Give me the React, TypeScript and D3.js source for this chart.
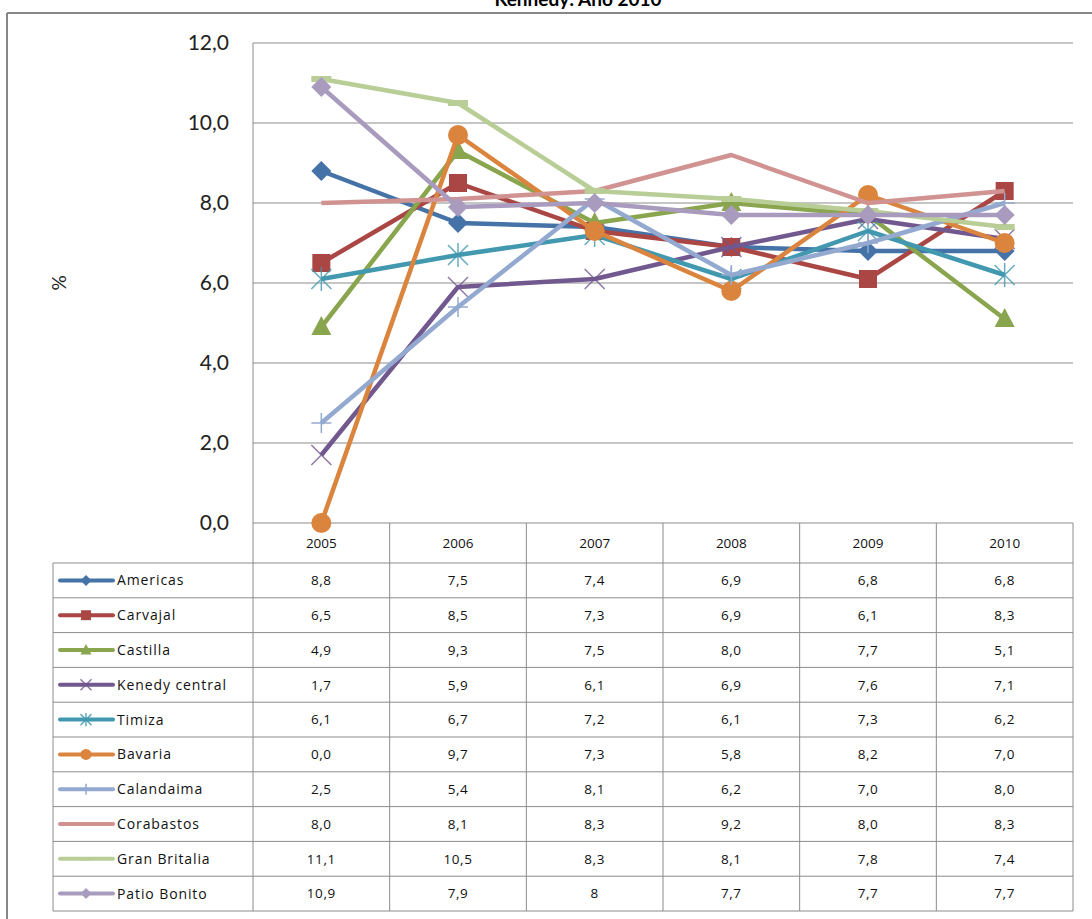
import React from "react";
import * as d3 from "d3";

const years = ["2005", "2006", "2007", "2008", "2009", "2010"];
const seriesNames = ["Americas", "Carvajal", "Castilla", "Kenedy central", "Timiza", "Bavaria", "Calandaima", "Corabastos", "Gran Britalia", "Patio Bonito"];
const americas = [8.8, 7.5, 7.4, 6.9, 6.8, 6.8];
const carvajal = [6.5, 8.5, 7.3, 6.9, 6.1, 8.3];
const castilla = [4.9, 9.3, 7.5, 8.0, 7.7, 5.1];
const kenedy = [1.7, 5.9, 6.1, 6.9, 7.6, 7.1];
const timiza = [6.1, 6.7, 7.2, 6.1, 7.3, 6.2];
const bavaria = [0.0, 9.7, 7.3, 5.8, 8.2, 7.0];
const calandaima = [2.5, 5.4, 8.1, 6.2, 7.0, 8.0];
const corabastos = [8.0, 8.1, 8.3, 9.2, 8.0, 8.3];
const granBritalia = [11.1, 10.5, 8.3, 8.1, 7.8, 7.4];
const patioBonito = [10.9, 7.9, 8.0, 7.7, 7.7, 7.7];
const patioLabels = ["10,9", "7,9", "8", "7,7", "7,7", "7,7"];
const yTicks = [0, 2, 4, 6, 8, 10, 12];
const colors = ["#4572A7", "#AA4643", "#89A54E", "#71588F", "#4198AF", "#DB843D", "#93A9CF", "#D19392", "#B9CD96", "#A99BBD"];
const markers = ["diamond", "square", "triangle", "x", "star", "circle", "plus", "none", "dash", "diamond"];
const allValues = [americas, carvajal, castilla, kenedy, timiza, bavaria, calandaima, corabastos, granBritalia, patioBonito];

const W = 1092, H = 919;
const plotL = 253, plotR = 1073, plotT = 43, plotB = 523;
const tableL = 53, headerB = 563, tableB = 911;
const font = "Lato, 'Open Sans', sans-serif";
const tableFont = "'Open Sans', sans-serif";

const fmt = (v: number) => v.toFixed(1).replace(".", ",");

function Marker({ type, x, y, color, size = 1 }: { type: string; x: number; y: number; color: string; size?: number }) {
  const s = size;
  switch (type) {
    case "diamond":
      return <path d={`M${x},${y - 10 * s}L${x + 10 * s},${y}L${x},${y + 10 * s}L${x - 10 * s},${y}Z`} fill={color} />;
    case "square":
      return <rect x={x - 9 * s} y={y - 9 * s} width={18 * s} height={18 * s} fill={color} />;
    case "triangle":
      return <path d={`M${x},${y - 11 * s}L${x + 10 * s},${y + 8 * s}L${x - 10 * s},${y + 8 * s}Z`} fill={color} />;
    case "circle":
      return <circle cx={x} cy={y} r={10 * s} fill={color} />;
    case "x":
      return (
        <g stroke={color} strokeWidth={1.5} opacity={0.8}>
          <line x1={x - 10 * s} y1={y - 10 * s} x2={x + 10 * s} y2={y + 10 * s} />
          <line x1={x - 10 * s} y1={y + 10 * s} x2={x + 10 * s} y2={y - 10 * s} />
        </g>
      );
    case "star":
      return (
        <g stroke={color} strokeWidth={1.5} opacity={0.8}>
          <line x1={x - 10 * s} y1={y - 10 * s} x2={x + 10 * s} y2={y + 10 * s} />
          <line x1={x - 10 * s} y1={y + 10 * s} x2={x + 10 * s} y2={y - 10 * s} />
          <line x1={x} y1={y - 12 * s} x2={x} y2={y + 12 * s} />
        </g>
      );
    case "plus":
      return (
        <g stroke={color} strokeWidth={1.5}>
          <line x1={x - 10 * s} y1={y} x2={x + 10 * s} y2={y} />
          <line x1={x} y1={y - 10 * s} x2={x} y2={y + 10 * s} />
        </g>
      );
    case "dash":
      return <rect x={x - 10 * s} y={y - 3 * s} width={20 * s} height={6 * s} fill={color} />;
    default:
      return null;
  }
}

export default function App() {
  const x = d3.scaleBand<string>().domain(years).range([plotL, plotR]);
  const y = d3.scaleLinear().domain([0, 12]).range([plotB, plotT]);
  const rowH = (tableB - headerB) / seriesNames.length;
  const line = d3
    .line<number>()
    .x((_, i) => (x(years[i]) as number) + x.bandwidth() / 2)
    .y((d) => y(d));
  const grid = "#8c8c8c";

  return (
    <svg width={W} height={H} style={{ position: "absolute", left: 0, top: 0, background: "#fff" }} fontFamily={font}>
      <text x={578} y={6} textAnchor="middle" fontSize={19} fontWeight="bold" fill="#000">Kennedy: Año 2010</text>
      {/* outer border */}
      <line x1={7} y1={13} x2={W} y2={13} stroke="#868686" strokeWidth={2} />
      <line x1={7} y1={13} x2={7} y2={H} stroke="#868686" strokeWidth={2} />

      {/* gridlines */}
      {yTicks.map((t) => (
        <line key={t} x1={plotL} x2={plotR} y1={y(t)} y2={y(t)} stroke={grid} strokeWidth={1} />
      ))}
      <line x1={plotL} x2={plotL} y1={plotT} y2={plotB} stroke={grid} />
      {yTicks.map((t) => (
        <text key={"l" + t} x={229} y={y(t)} dy="0.35em" textAnchor="end" fontSize={21} fill="#222">{fmt(t)}</text>
      ))}
      <text transform={`translate(66,${(plotT + plotB) / 2}) rotate(-90)`} textAnchor="middle" fontSize={19} fill="#222">%</text>

      {/* table */}
      <g fontFamily={tableFont}>
        {years.map((yr) => {
          const cx = (x(yr) as number) + x.bandwidth() / 2;
          return (
            <text key={yr} x={cx} y={(plotB + headerB) / 2} dy="0.35em" textAnchor="middle" fontSize={13.5} fill="#111">{yr}</text>
          );
        })}
        {d3.range(years.length + 1).map((i) => (
          <line key={"v" + i} x1={plotL + i * x.bandwidth()} x2={plotL + i * x.bandwidth()} y1={plotB} y2={tableB} stroke={grid} />
        ))}
        <line x1={tableL} x2={tableL} y1={headerB} y2={tableB} stroke={grid} />
        {d3.range(seriesNames.length + 1).map((i) => (
          <line key={"h" + i} x1={tableL} x2={plotR} y1={headerB + i * rowH} y2={headerB + i * rowH} stroke={grid} />
        ))}
        {seriesNames.map((name, si) => {
          const cy = headerB + (si + 0.5) * rowH;
          return (
            <g key={name}>
              <line x1={60} x2={113} y1={cy} y2={cy} stroke={colors[si]} strokeWidth={4} strokeLinecap="round" />
              <Marker type={markers[si]} x={86} y={cy} color={colors[si]} size={0.55} />
              <text x={117} y={cy} dy="0.35em" fontSize={14} letterSpacing={0.9} fill="#111">{name}</text>
              {allValues[si].map((v, i) => (
                <text key={i} x={(x(years[i]) as number) + x.bandwidth() / 2} y={cy} dy="0.35em" textAnchor="middle" fontSize={13.5} letterSpacing={0.6} fill="#111">
                  {si === 9 ? patioLabels[i] : fmt(v)}
                </text>
              ))}
            </g>
          );
        })}
      </g>

      {/* lines */}
      {allValues.map((vals, si) => (
        <g key={"s" + si}>
          <path d={line(vals) as string} fill="none" stroke={colors[si]} strokeWidth={4.5} strokeLinejoin="round" />
          {vals.map((v, i) => (
            <Marker key={i} type={markers[si]} x={(x(years[i]) as number) + x.bandwidth() / 2} y={y(v)} color={colors[si]} />
          ))}
        </g>
      ))}
    </svg>
  );
}
